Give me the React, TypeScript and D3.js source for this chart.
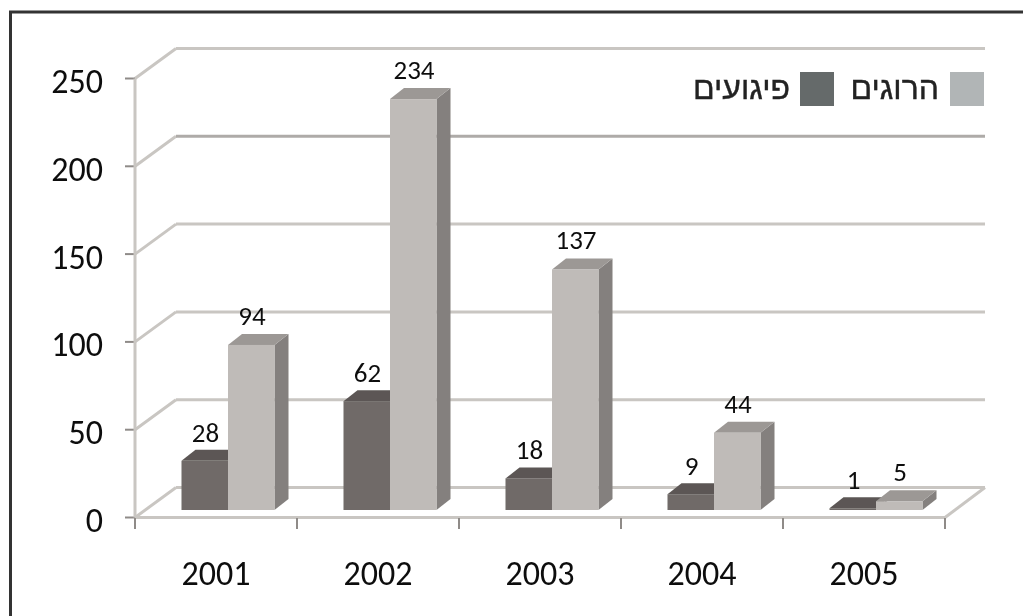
import React from "react";
import * as d3 from "d3";

const years = ["2001", "2002", "2003", "2004", "2005"];
const attacks = [28, 62, 18, 9, 1];
const deaths = [94, 234, 137, 44, 5];
const yTicks = [0, 50, 100, 150, 200, 250];
const legendDeaths = "הרוגים";
const legendAttacks = "פיגועים";
const FONT = "Carlito, 'Open Sans', 'Noto Sans', sans-serif";
const HEB = "'Liberation Sans', 'DejaVu Sans', sans-serif";

const W = 1023, H = 616;
const dx = 41, dy = -30;
const y = d3.scaleLinear().domain([0, 250]).range([517.5, 78.5]);
const x = d3.scaleBand().domain(years).range([135, 945]);
const barBase = 510;
const barH = (v: number) => y(0) - y(v);

function Bar({ x0, w, v, front, top, side }: { x0: number; w: number; v: number; front: string; top: string; side: string }) {
  const t = barBase - barH(v);
  const ddx = 14, ddy = -11;
  const p = (a: number[][]) => a.map((q) => q.join(",")).join(" ");
  return (
    <g>
      <polygon points={p([[x0 + w, t], [x0 + w + ddx, t + ddy], [x0 + w + ddx, barBase + ddy], [x0 + w, barBase]])} fill={side} />
      <polygon points={p([[x0, t], [x0 + ddx, t + ddy], [x0 + w + ddx, t + ddy], [x0 + w, t]])} fill={top} />
      <rect x={x0} y={t} width={w} height={barBase - t} fill={front} />
    </g>
  );
}

export default function App() {
  const grid = "#c9c6c2";
  const tick = "#8f8b88";
  return (
    <svg width={W} height={H} style={{ position: "absolute", left: 0, top: 0, background: "#fff" }}>
      <defs>
        <filter id="soft" x="-2%" y="-2%" width="104%" height="104%">
          <feGaussianBlur stdDeviation="0.7" />
        </filter>
        <filter id="softText" x="-2%" y="-2%" width="104%" height="104%">
          <feGaussianBlur stdDeviation="0.3" />
        </filter>
      </defs>
      <polyline points={`10.5,616 10.5,12 1023,12`} fill="none" stroke="#333" strokeWidth={3} />
      <g filter="url(#soft)">
        {yTicks.map((t) => (
          <g key={t}>
            <line x1={135} y1={y(t)} x2={135 + dx} y2={y(t) + dy} stroke={grid} strokeWidth={3} />
            <line x1={135 + dx} y1={y(t) + dy} x2={985} y2={y(t) + dy} stroke={t === 200 ? "#aeaba8" : grid} strokeWidth={3} />
            <line x1={125} x2={135} y1={y(t)} y2={y(t)} stroke={tick} strokeWidth={2} />
          </g>
        ))}
        <line x1={135} x2={135} y1={y(250)} y2={y(0)} stroke={grid} strokeWidth={3} />
        <line x1={135} x2={945} y1={y(0)} y2={y(0)} stroke={grid} strokeWidth={3} />
        <line x1={945} x2={985} y1={y(0)} y2={y(0) + dy} stroke={grid} strokeWidth={3} />
        {[...years, "end"].map((yr, i) => {
          const xp = 135 + i * x.step();
          return <line key={yr} x1={xp} x2={xp} y1={518} y2={529} stroke={tick} strokeWidth={2} />;
        })}
        {years.map((yr, i) => {
          const x0 = x(yr)! + 46.5;
          const w = 46.5;
          return (
            <g key={yr}>
              <Bar x0={x0} w={w} v={attacks[i]} front="#6f6a67" top="#5b5654" side="#5b5654" />
              <Bar x0={x0 + w} w={w} v={deaths[i]} front="#bfbbb8" top="#9c9895" side="#84807e" />
            </g>
          );
        })}
        <rect x={950} y={72} width={34} height={34} fill="#b1b5b6" />
        <rect x={800} y={72} width={34} height={34} fill="#656a6a" />
      </g>
      <g filter="url(#softText)">
        {yTicks.map((t) => (
          <text key={t} x={103} y={y(t) + 14.5} textAnchor="end" fontFamily={FONT} fontSize={34} fill="#111">{t}</text>
        ))}
        {years.map((yr, i) => {
          const x0 = x(yr)! + 46.5;
          const w = 46.5;
          return (
            <g key={yr}>
              <text x={x0 + 24} y={barBase - barH(attacks[i]) - 19} textAnchor="middle" fontFamily={FONT} fontSize={27} fill="#111">{attacks[i]}</text>
              <text x={x0 + w + 24} y={barBase - barH(deaths[i]) - 20} textAnchor="middle" fontFamily={FONT} fontSize={27} fill="#111">{deaths[i]}</text>
              <text x={x(yr)! + x.step() / 2} y={585} textAnchor="middle" fontFamily={FONT} fontSize={34} fill="#111">{yr}</text>
            </g>
          );
        })}
        <text x={939} y={99} textAnchor="start" direction="rtl" fontFamily={HEB} fontSize={32} fill="#222" stroke="#222" strokeWidth={0.4}>{legendDeaths}</text>
        <text x={790} y={99} textAnchor="start" direction="rtl" fontFamily={HEB} fontSize={32} fill="#222" stroke="#222" strokeWidth={0.4}>{legendAttacks}</text>
      </g>
    </svg>
  );
}
